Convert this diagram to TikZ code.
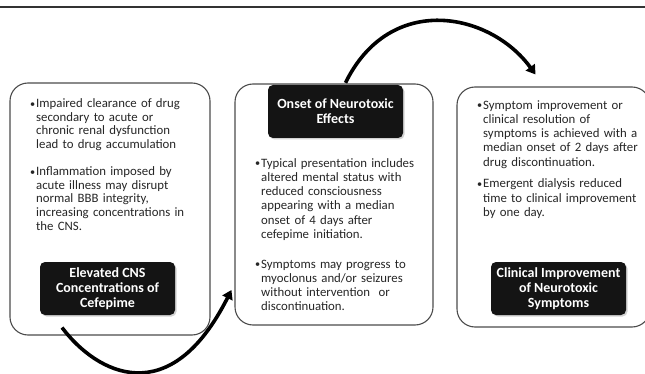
\documentclass[tikz,border=0pt]{standalone}
\usepackage{fontspec}
\setmainfont{Carlito}
\usetikzlibrary{arrows.meta,shadows,calc}
\newcommand\bpt[1]{\par\hangindent=7pt\hangafter=1\noindent\makebox[7pt][l]{\hspace*{1pt}\raisebox{0.6pt}{\scalebox{0.8}{\textbullet}}}#1\par}
\begin{document}
\begin{tikzpicture}[x=1pt,y=-1pt,
  outerbox/.style={draw=black!70, line width=1.1pt, rounded corners=18pt, rectangle, inner sep=0pt},
  darkbox/.style={fill=black!92, rounded corners=5pt, text=white, inner sep=0pt,
    font=\bfseries\fontsize{14}{15}\selectfont, align=center,
    minimum width=135pt, minimum height=53pt,
    drop shadow={shadow xshift=1.5pt, shadow yshift=-1.5pt, opacity=0.35}},
  bodytext/.style={anchor=north west, inner sep=0pt, text width=#1, align=left,
    text=black!85},
  flowarrow/.style={line width=3.6pt, -{Triangle[length=9pt,width=11pt]}},
  topline/.style={line width=2.2pt, draw=black!80}
]
\useasboundingbox (0,0) rectangle (645,374);
\clip (0,0) rectangle (645,374);
\fill[white] (0,0) rectangle (645,374);
\draw[topline] (0,7) -- (645,7);

% outer boxes
\node[outerbox, minimum width=200pt, minimum height=252pt] (box1) at (110,209) {};
\node[outerbox, minimum width=198pt, minimum height=241pt] (box2) at (334,204.5) {};
\node[outerbox, minimum width=193pt, minimum height=240pt] (box3) at (553.5,207) {};

% dark title boxes
\node[darkbox] (dark1) at (107.5,288.5) {Elevated CNS\\Concentrations of\\Cefepime};
\node[darkbox] (dark2) at (335.5,111.5) {Onset of Neurotoxic\\Effects};
\node[darkbox] (dark3) at (558.5,288.5) {Clinical Improvement\\of Neurotoxic\\Symptoms};

% body texts
\node[bodytext=175pt, font=\fontsize{12.8}{13.6}\selectfont] (txt1) at (29,94) {%
\bpt{Impaired clearance of drug\newline secondary to acute or\newline chronic renal dysfunction\newline lead to drug accumulation}
\vspace{13.5pt}
\bpt{Inflammation imposed by\newline acute illness may disrupt\newline normal BBB integrity,\newline increasing concentrations in\newline the CNS.}};

\node[bodytext=175pt, font=\fontsize{12.8}{14.2}\selectfont] (txt2) at (254,153) {%
\bpt{Typical presentation includes\newline altered mental status with\newline reduced consciousness\newline appearing with a median\newline onset of 4 days after\newline cefepime initiation.}
\vspace{15.5pt}
\bpt{Symptoms may progress to\newline myoclonus and/or seizures\newline without intervention\ \ or\newline discontinuation.}};

\node[bodytext=175pt, font=\fontsize{12.8}{14.2}\selectfont] (txt3) at (476,95) {%
\bpt{Symptom improvement or\newline clinical resolution of\newline symptoms is achieved with a\newline median onset of 2 days after\newline drug discontinuation.}
\vspace{7.5pt}
\bpt{Emergent dialysis reduced\newline time to clinical improvement\newline by one day.}};

% arrows
\coordinate (a1s) at ($(dark2.north)+(10,-2)$);
\coordinate (a1e) at ($(box3.north)+(-18,-12)$);
\draw[flowarrow] (a1s) .. controls (390,-8) and (490,12) .. (a1e);

\coordinate (a2s) at ($(box1.south)+(-48,-8)$);
\coordinate (a2e) at ($(box2.west)+(-3,85.5)$);
\draw[flowarrow] (a2s) .. controls (97,374) and (170,412) .. (a2e);
\end{tikzpicture}
\end{document}
